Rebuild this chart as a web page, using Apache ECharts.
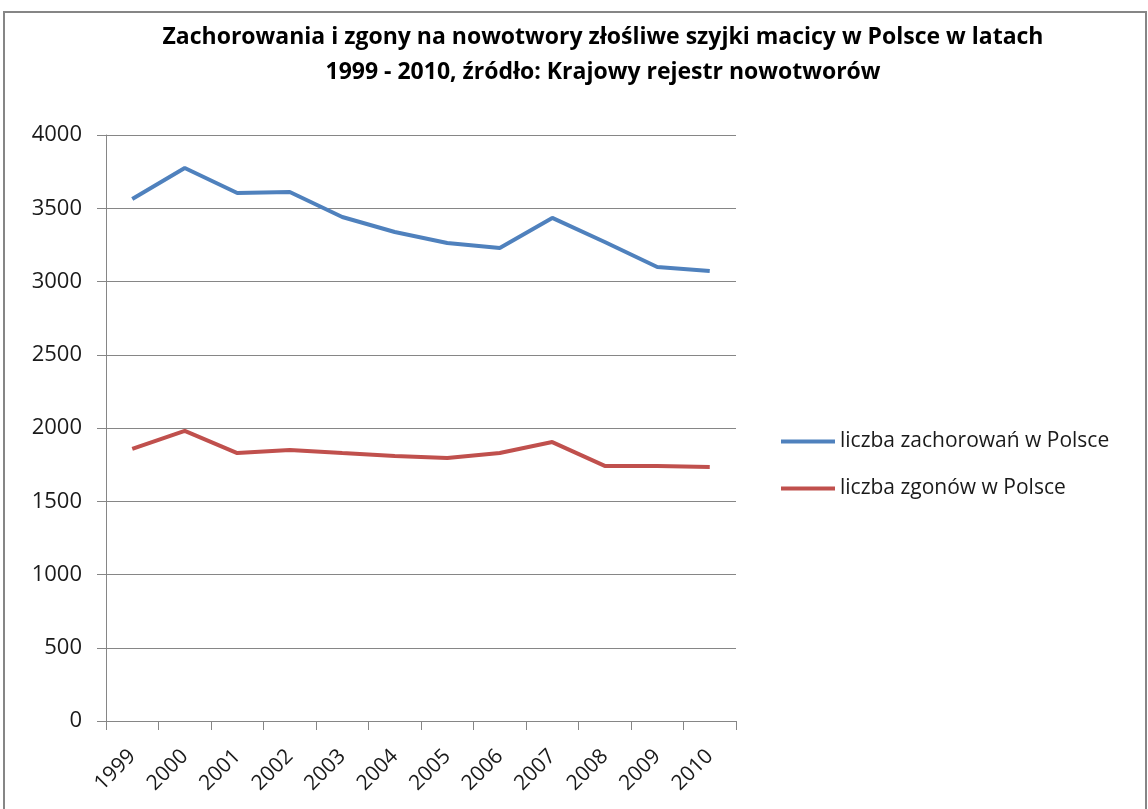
<!DOCTYPE html>
<html>
<head>
<meta charset="utf-8">
<script src="https://cdn.jsdelivr.net/npm/echarts@6/dist/echarts.min.js"></script>
<style>
  html, body { margin: 0; padding: 0; background: #fff; }
  #chart { width: 1148px; height: 809px; }
</style>
</head>
<body>
<div id="chart"></div>
<script>
var years = ['1999', '2000', '2001', '2002', '2003', '2004', '2005', '2006', '2007', '2008', '2009', '2010'];
var zachorowania = [3563, 3775, 3604, 3611, 3440, 3338, 3263, 3229, 3434, 3270, 3099, 3072];
var zgony = [1857, 1980, 1829, 1850, 1829, 1809, 1795, 1829, 1904, 1741, 1741, 1734];

var fontName = '"Open Sans", "Noto Sans", sans-serif';

var chart = echarts.init(document.getElementById('chart'));

chart.setOption({
  animation: false,
  textStyle: { fontFamily: fontName },
  title: {
    text: 'Zachorowania i zgony na nowotwory złośliwe szyjki macicy w Polsce w latach\n1999 - 2010, źródło: Krajowy rejestr nowotworów',
    left: 598,
    textAlign: 'center',
    top: 15,
    textStyle: {
      fontSize: 23,
      fontWeight: 'bold',
      color: '#000',
      lineHeight: 35,
      fontFamily: fontName
    }
  },
  graphic: [{
    type: 'rect',
    shape: { x: 4, y: 12, width: 1142, height: 830 },
    style: { fill: 'none', stroke: '#868686', lineWidth: 2 }
  }],
  legend: {
    orient: 'vertical',
    left: 776,
    top: 426,
    itemWidth: 54,
    itemHeight: 4,
    itemGap: 26,
    icon: 'rect',
    textStyle: { fontSize: 21, color: '#1a1a1a' },
    data: ['liczba zachorowań w Polsce', 'liczba zgonów w Polsce']
  },
  grid: { left: 106, right: 412, top: 135, bottom: 88 },
  xAxis: {
    type: 'category',
    data: years,
    boundaryGap: true,
    axisLine: { lineStyle: { color: '#868686', width: 1 } },
    axisTick: { show: true, length: 9, lineStyle: { color: '#868686' } },
    axisLabel: {
      rotate: 45,
      fontSize: 21,
      color: '#1a1a1a',
      margin: 32,
      interval: 0
    }
  },
  yAxis: {
    type: 'value',
    min: 0,
    max: 4000,
    interval: 500,
    axisLine: { show: true, lineStyle: { color: '#868686', width: 1 } },
    axisTick: { show: true, length: 9, lineStyle: { color: '#868686' } },
    splitLine: { lineStyle: { color: '#868686', width: 1 } },
    axisLabel: {
      fontSize: 22,
      color: '#1a1a1a',
      margin: 24,
      formatter: function (v) { return String(v); }
    }
  },
  series: [{
    name: 'liczba zachorowań w Polsce',
    type: 'line',
    data: zachorowania,
    symbol: 'none',
    itemStyle: { color: '#4F81BD' },
    lineStyle: { color: '#4F81BD', width: 4 }
  }, {
    name: 'liczba zgonów w Polsce',
    type: 'line',
    data: zgony,
    symbol: 'none',
    itemStyle: { color: '#C0504D' },
    lineStyle: { color: '#C0504D', width: 4 }
  }]
});
</script>
</body>
</html>
